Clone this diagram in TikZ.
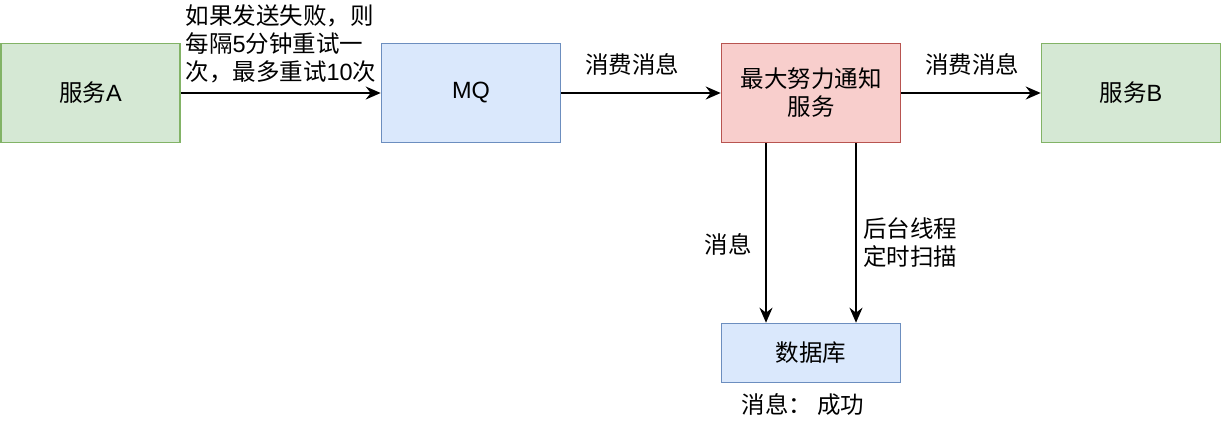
\documentclass[tikz,border=0pt]{standalone}
\usepackage{fontspec}
\setmainfont{Liberation Sans}
\newfontfamily\cjk{Noto Sans CJK SC}
\usetikzlibrary{arrows.meta}
\definecolor{gfill}{HTML}{D5E8D4}\definecolor{gdraw}{HTML}{82B366}
\definecolor{bfill}{HTML}{DAE8FC}\definecolor{bdraw}{HTML}{6C8EBF}
\definecolor{rfill}{HTML}{F8CECC}\definecolor{rdraw}{HTML}{B85450}
\tikzset{
  box/.style={draw, line width=1.6pt, minimum width=179pt, minimum height=99pt, inner sep=0pt, align=center, font=\fontsize{23.5}{28}\selectfont},
  gbox/.style={box, fill=gfill, draw=gdraw},
  bbox/.style={box, fill=bfill, draw=bdraw},
  rbox/.style={box, fill=rfill, draw=rdraw},
  conn/.style={line width=1.7pt, -{Stealth[length=15pt,width=13pt,inset=5pt]}},
  lbl/.style={font=\fontsize{23.5}{28}\selectfont, inner sep=0pt, align=center},
}
\begin{document}
\begin{tikzpicture}[x=1pt,y=-1pt]
\useasboundingbox (0,0) rectangle (1222,424);
\node[gbox] (a) at (90.5,93) {{\cjk 服务}A};
\node[bbox] (mq) at (471,93) {MQ};
\node[rbox] (n) at (811,93) {{\cjk 最大努力通知}\\{\cjk 服务}};
\node[gbox] (b) at (1131,93) {{\cjk 服务}B};
\node[bbox, minimum height=59pt] (db) at (811,353) {{\cjk 数据库}};
\draw[conn] (a) -- (mq);
\draw[conn] (mq) -- (n);
\draw[conn] (n) -- (b);
\draw[conn] ([xshift=-45pt]n.south) -- ([xshift=-45pt]db.north);
\draw[conn] ([xshift=45pt]n.south) -- ([xshift=45pt]db.north);
\node[lbl, align=left] (la) at (281,44) {{\cjk 如果发送失败，则}\\{\cjk 每隔}5{\cjk 分钟重试一}\\{\cjk 次，最多重试}10{\cjk 次}};
\node[lbl] (l1) at (632,64) {\cjk 消费消息};
\node[lbl] (l2) at (972,64) {\cjk 消费消息};
\node[lbl] (l3) at (728,244) {\cjk 消息};
\node[lbl, align=left, anchor=west] (l4) at (863,243) {{\cjk 后台线程}\\{\cjk 定时扫描}};
\node[lbl] (l5) at (803,405) {\cjk 消息： 成功};
\end{tikzpicture}
\end{document}
